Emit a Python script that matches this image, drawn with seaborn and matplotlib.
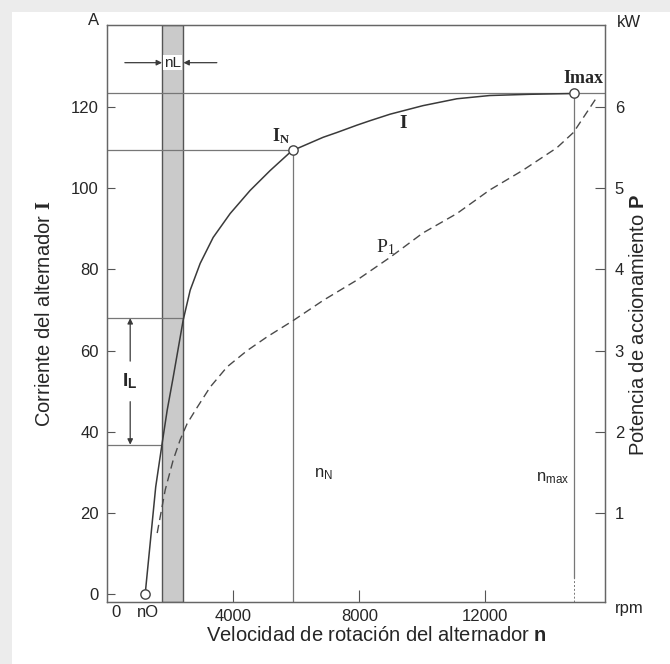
import matplotlib
matplotlib.use("Agg")
import matplotlib.pyplot as plt
import seaborn as sns
import pandas as pd
from matplotlib.patches import Rectangle

# alternator current I (A) against speed n (rpm)
curr_rpm = [1206, 1396, 1540, 1745, 1904, 2094, 2411, 2634, 2951, 3363, 3903, 4537,
            5172, 5807, 5902, 6854, 7298, 7930, 8345, 8980, 10020, 11100, 12140,
            13400, 14800]
curr_amp = [0, 15, 26.4, 37.2, 45.3, 53.4, 67.5, 74.9, 81.5, 87.9, 93.8, 99.5,
            104.4, 108.9, 109.4, 112.6, 113.8, 115.6, 116.7, 118.3, 120.4, 122.1,
            122.9, 123.2, 123.4]

# drive power P1 (kW) against speed n (rpm)
pow_rpm = [1587, 1840, 2094, 2316, 2538, 2856, 3268, 3808, 4442, 5077, 5902, 6860,
           7930, 8980, 10020, 11100, 12140, 13180, 14270, 14800, 15500]
pow_kw = [0.75, 1.28, 1.65, 1.9, 2.1, 2.3, 2.55, 2.8, 3.0, 3.17, 3.37, 3.62,
          3.87, 4.15, 4.45, 4.69, 4.98, 5.22, 5.5, 5.69, 6.1]

# marked points and ranges
n_o = 1206
n_nom, i_nom = 5902, 109.4
n_max, i_max = 14800, 123.4
nl_band = [1740, 2420]
il_range = [36.8, 68]

left_ticks = [0, 20, 40, 60, 80, 100, 120]
right_ticks = [1, 2, 3, 4, 5, 6]
x_ticks = [4000, 8000, 12000]

sns.set_style("ticks")
plt.rcParams["font.family"] = ["Liberation Sans", "DejaVu Sans"]
plt.rcParams["mathtext.fontset"] = "custom"
plt.rcParams["mathtext.rm"] = "Liberation Serif"
plt.rcParams["mathtext.it"] = "Liberation Serif:bold"
plt.rcParams["mathtext.bf"] = "Liberation Sans:bold"
plt.rcParams["mathtext.sf"] = "Liberation Sans"

fig = plt.figure(figsize=(6.7, 6.64), dpi=100, facecolor="#ececec")
fig.patches.append(Rectangle((12 / 670, 0), 1, 1 - 12 / 664, transform=fig.transFigure,
                             facecolor="white", edgecolor="none", zorder=-1))
ax = fig.add_axes([0.160, 0.0934, 0.743, 0.869])
ax.set_facecolor("white")

dark = "#3a3a3a"
guide = "#777777"

curr_df = pd.DataFrame({"n": curr_rpm, "I": curr_amp})
pow_df = pd.DataFrame({"n": pow_rpm, "P": pow_kw})

# nL band
ax.axvspan(nl_band[0], nl_band[1], facecolor="#cacaca", edgecolor="#555555", lw=1.0, zorder=1)

# construction lines
ax.axhline(i_max, color=guide, lw=0.9, zorder=2)
ax.plot([0, n_nom], [i_nom, i_nom], color=guide, lw=0.9, zorder=2)
ax.plot([n_nom, n_nom], [-2, i_nom], color=guide, lw=0.9, zorder=2)
ax.plot([n_max, n_max], [4, i_max], color=guide, lw=0.9, zorder=2)
ax.plot([n_max, n_max], [-2, 4], color=guide, lw=0.7, ls=(0, (2, 2)), zorder=2)
ax.plot([0, nl_band[1]], [il_range[1], il_range[1]], color=guide, lw=0.9, zorder=2)
ax.plot([0, nl_band[0]], [il_range[0], il_range[0]], color=guide, lw=0.9, zorder=2)

sns.lineplot(data=curr_df, x="n", y="I", ax=ax, color=dark, lw=1.1, zorder=3,
             sort=False, estimator=None)

marks = pd.DataFrame({"n": [n_o, n_nom, n_max], "I": [0, i_nom, i_max]})
sns.scatterplot(data=marks, x="n", y="I", ax=ax, s=45, facecolor="white",
                edgecolor="#444444", linewidth=1.0, zorder=5, clip_on=False)

ax.set_xlim(0, 15800)
ax.set_ylim(-2, 140.3)
ax.set_xticks(x_ticks)
ax.set_yticks(left_ticks)
ax.tick_params(axis="x", direction="in", length=9, width=0.8, color="#555555",
               labelsize=12, pad=5)
ax.tick_params(axis="y", direction="in", length=6, width=0.8, color="#555555",
               labelsize=12, pad=6)
for s in ax.spines.values():
    s.set_color("#666666")
    s.set_linewidth(0.9)

ax2 = ax.twinx()
sns.lineplot(data=pow_df, x="n", y="P", ax=ax2, color="#4a4a4a", lw=1.0,
             dashes=False, sort=False, estimator=None, zorder=3)
ax2.lines[0].set_linestyle((0, (6, 3.5)))
ax2.set_ylim(-0.1, 7.015)
ax2.set_yticks(right_ticks)
ax2.tick_params(axis="y", direction="in", length=7, width=0.8, color="#555555",
                labelsize=12, pad=7)
for s in ax2.spines.values():
    s.set_color("#666666")
    s.set_linewidth(0.9)

ax.set_xlabel("Velocidad de rotación del alternador $\\mathbf{n}$", fontsize=14.5)
ax.xaxis.set_label_coords(0.54, -0.042)
ax.set_ylabel("Corriente del alternador $\\mathit{I}$", fontsize=14.5)
ax.yaxis.set_label_coords(-0.107, 0.50)
ax2.set_ylabel("Potencia de accionamiento $\\mathbf{P}$", fontsize=14.5)
ax2.yaxis.set_label_coords(1.048, 0.48)

ax.text(-0.028, 1.008, "A", transform=ax.transAxes, ha="center", va="center", fontsize=12)
ax.text(1.048, 1.005, "kW", transform=ax.transAxes, ha="center", va="center", fontsize=12)
ax.text(1.048, -0.012, "rpm", transform=ax.transAxes, ha="center", va="center", fontsize=12)
ax.text(0.018, -0.018, "0", transform=ax.transAxes, ha="center", va="center", fontsize=12)
ax.text(n_o + 100, -0.018, "nO", transform=ax.get_xaxis_transform(),
        ha="center", va="center", fontsize=12)

# curve labels
ax.text(5500, 112.8, "$\\mathit{I}_{\\mathit{N}}$", ha="center", va="center", fontsize=13)
ax.text(15100, 127, "Imax", ha="center", va="center", fontsize=13,
        family="Liberation Serif", weight="bold")
ax.text(9390, 116, "$\\mathit{I}$", ha="center", va="center", fontsize=14)
ax.text(8820, 85.5, "$\\mathrm{P}_1$", ha="center", va="center", fontsize=14)
ax.text(6850, 29.5, "n$_{\\mathsf{N}}$", ha="center", va="center", fontsize=12)
ax.text(14150, 28.5, "n$_{\\mathsf{max}}$", ha="center", va="center", fontsize=12)

# nL marker
nl_y = 131
ax.text(sum(nl_band) / 2, nl_y, "nL", ha="center", va="center", fontsize=11,
        bbox=dict(facecolor="white", edgecolor="none", pad=0.6), zorder=6)
ax.annotate("", xy=(nl_band[0], nl_y), xytext=(560, nl_y),
            arrowprops=dict(arrowstyle="-|>", color=dark, lw=0.9, mutation_scale=8,
                            shrinkA=0, shrinkB=0), zorder=6)
ax.annotate("", xy=(nl_band[1], nl_y), xytext=(3480, nl_y),
            arrowprops=dict(arrowstyle="-|>", color=dark, lw=0.9, mutation_scale=8,
                            shrinkA=0, shrinkB=0), zorder=6)

# IL marker
il_x = 730
il_mid = (il_range[0] + il_range[1]) / 2
ax.text(il_x, il_mid, "$\\mathbf{I}_{\\mathbf{L}}$", ha="center", va="center", fontsize=14)
ax.annotate("", xy=(il_x, il_range[1]), xytext=(il_x, il_mid + 5),
            arrowprops=dict(arrowstyle="-|>", color=dark, lw=0.9, mutation_scale=8,
                            shrinkA=0, shrinkB=0))
ax.annotate("", xy=(il_x, il_range[0]), xytext=(il_x, il_mid - 5),
            arrowprops=dict(arrowstyle="-|>", color=dark, lw=0.9, mutation_scale=8,
                            shrinkA=0, shrinkB=0))

fig.savefig("out.png", dpi=100, facecolor=fig.get_facecolor())
